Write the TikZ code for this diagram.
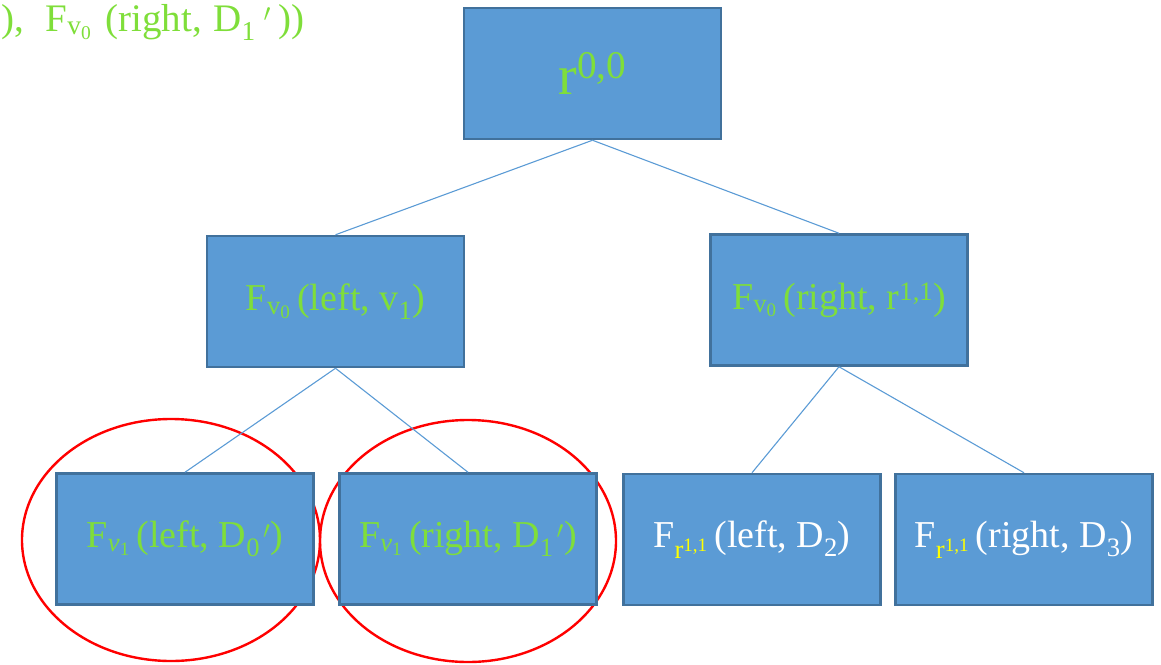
\documentclass[tikz,border=0pt]{standalone}
\usepackage{fontspec}
\usepackage{amsmath}
\setmainfont{Liberation Serif}
\definecolor{boxfill}{HTML}{5B9BD5}
\definecolor{boxline}{HTML}{41719C}
\definecolor{lbl}{RGB}{127,222,58}
\definecolor{hilite}{HTML}{FFFF00}
\newcommand\tx[1]{\text{#1}}

\begin{document}
\begin{tikzpicture}[x=1pt,y=-1pt,
  treebox/.style={rectangle, draw=boxline, fill=boxfill, line width=2.5pt,
    minimum width=257pt, minimum height=131pt, inner sep=0pt, text=lbl,
    font=\fontsize{38}{44}\selectfont},
  branch/.style={draw=boxfill, line width=1.1pt},
  ring/.style={draw=red, line width=2.4pt}]
\useasboundingbox (0,0) rectangle (1161,664);

% highlighted subtrees
\draw[ring] (171,540) ellipse [x radius=149pt, y radius=121pt];
\draw[ring] (468,541) ellipse [x radius=148pt, y radius=121pt];

% continuation of the expression above the tree
\node[anchor=base east, inner sep=0pt, text=lbl, font=\fontsize{39}{44}\selectfont] (expr) at (305,31)
  {),\hspace{0.55em}$\tx{F}_{\tx{v}_{\tx{0}}}$\hspace{0.35em}(right,\hspace{0.3em}$\tx{D}_{\tx{1}}$\hspace{0.2em}$'$\hspace{0.2em}))};

% tree nodes
\node[treebox, font=\fontsize{56}{60}\selectfont] (root) at (592.5,73.5) {$\tx{r}^{\tx{0,0}}$};
\node[treebox] (midL) at (335.5,301.5) {$\tx{F}_{\tx{v}_{\tx{0}}}$\,(left, $\tx{v}_{\tx{1}}$)};
\node[treebox] (midR) at (839,300) {$\tx{F}_{\tx{v}_{\tx{0}}}$\,(right, $\tx{r}^{\tx{1,1}}$)};
\node[treebox] (b1) at (185,539) {$\tx{F}_{\textit{v}_{\tx{1}}}$\,(left, $\tx{D}_{\tx{0}}$\hspace{0.08em}$'$)};
\node[treebox] (b2) at (468,539) {$\tx{F}_{\textit{v}_{\tx{1}}}$\,(right, $\tx{D}_{\tx{1}}$\hspace{0.08em}$'$)};
\node[treebox, text=white] (b3) at (752,539.5) {$\tx{F}_{\color{hilite}\tx{r}^{\tx{1,1}}}$\,(left, $\tx{D}_{\tx{2}}$)};
\node[treebox, text=white] (b4) at (1024,539.5) {$\tx{F}_{\color{hilite}\tx{r}^{\tx{1,1}}}$\,(right, $\tx{D}_{\tx{3}}$)};

% connectors
\draw[branch] (root.south) -- (midL.north);
\draw[branch] (root.south) -- (midR.north);
\draw[branch] (midL.south) -- (b1.north);
\draw[branch] (midL.south) -- (b2.north);
\draw[branch] (midR.south) -- (b3.north);
\draw[branch] (midR.south) -- (b4.north);
\end{tikzpicture}
\end{document}
